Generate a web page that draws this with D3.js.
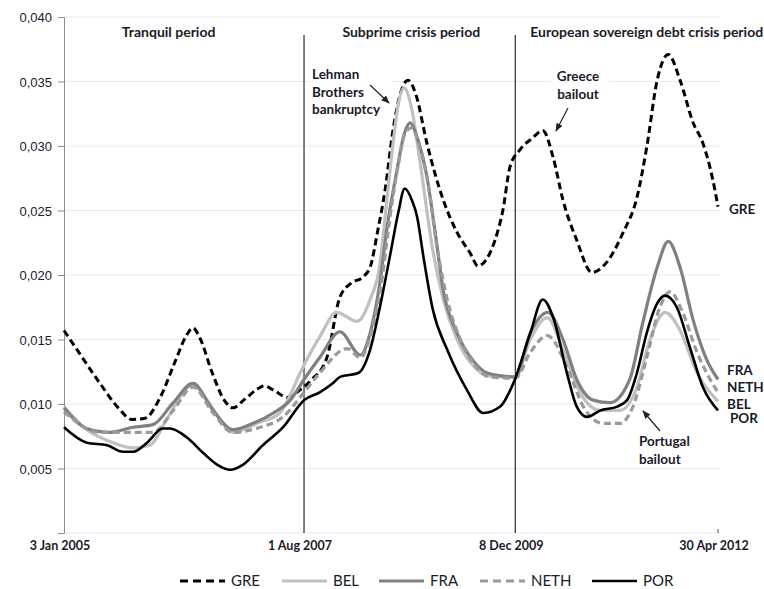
<!DOCTYPE html>
<html>
<head>
<meta charset="utf-8">
<script src="https://d3js.org/d3.v7.min.js"></script>
<style>
  body { margin: 0; background: #fff; }
  svg { display: block; font-family: Lato, "Liberation Sans", sans-serif; }
</style>
</head>
<body>
<svg id="chart" width="764" height="589"></svg>
<script>
// ---- data (x = observation index, 0..100 across the sample) ----
const seriesNames = ["GRE", "BEL", "FRA", "NETH", "POR"];
const xTickPos = [0, 36.7, 69.0, 100];
const xTickLabels = ["3 Jan 2005", "1 Aug 2007", "8 Dec 2009", "30 Apr 2012"];
const periodBreaks = [36.7, 69.0];
const periodLabels = ["Tranquil period", "Subprime crisis period", "European sovereign debt crisis period"];
const periodLabelPos = [16.0, 53.1, 89.1];
const yTicks = [0.005, 0.010, 0.015, 0.020, 0.025, 0.030, 0.035, 0.040];

const GRE = [[0,0.0157],[2.4,0.0139],[5.5,0.0116],[8.3,0.0097],[10.4,0.0088],[12.4,0.0089],[14.7,0.0105],[17.0,0.0133],[18.7,0.0153],[19.7,0.0159],[20.8,0.0151],[22.6,0.0125],[24.5,0.0103],[25.8,0.0097],[27.7,0.0104],[29.7,0.0112],[30.6,0.0114],[32.3,0.0110],[34.1,0.0105],[36.1,0.0111],[37.9,0.0119],[40.2,0.0136],[42.2,0.0183],[44.0,0.0194],[45.6,0.0198],[46.8,0.0206],[48.0,0.0235],[49.1,0.0266],[50.3,0.0312],[51.4,0.0340],[52.6,0.0351],[53.8,0.0340],[55.5,0.0302],[58.0,0.0258],[60.1,0.0233],[62.1,0.0217],[63.3,0.0207],[64.7,0.0213],[65.9,0.0227],[67.1,0.0250],[68.2,0.0284],[69.7,0.0297],[71.6,0.0306],[73.2,0.0312],[74.8,0.0291],[76.3,0.0258],[78.4,0.0227],[80.7,0.0202],[83.0,0.0210],[85.5,0.0233],[87.6,0.0260],[89.1,0.0299],[90.7,0.0351],[92.4,0.0371],[94.2,0.0351],[96.2,0.0318],[97.7,0.0302],[99.2,0.0274],[100,0.0253]];

const BEL = [[0,0.0098],[3.5,0.0080],[7.0,0.0071],[10.6,0.0066],[13.1,0.0068],[15.7,0.0088],[17.7,0.0105],[19.7,0.0115],[21.9,0.0103],[23.9,0.0088],[25.8,0.0078],[29.5,0.0085],[33.0,0.0093],[34.1,0.0102],[36.1,0.0124],[39.1,0.0152],[41.7,0.0171],[44.8,0.0164],[46.8,0.0181],[48.3,0.0208],[49.2,0.0250],[50.2,0.0297],[51.1,0.0332],[52.0,0.0345],[53.2,0.0328],[54.4,0.0289],[56.4,0.0219],[58.0,0.0181],[60.1,0.0150],[62.5,0.0130],[64.7,0.0122],[66.7,0.0121],[69.0,0.0121],[71.3,0.0150],[73.9,0.0167],[76.3,0.0142],[78.9,0.0109],[82.0,0.0095],[85.0,0.0095],[87.6,0.0113],[89.6,0.0150],[91.9,0.0171],[94.2,0.0157],[96.8,0.0124],[100,0.0102]];

const FRA = [[0,0.0097],[3.5,0.0081],[7.0,0.0078],[10.6,0.0082],[13.6,0.0084],[16.7,0.0101],[19.7,0.0116],[22.8,0.0095],[25.8,0.0080],[28.9,0.0085],[32.0,0.0093],[34.6,0.0103],[36.7,0.0119],[39.1,0.0136],[42.2,0.0156],[45.3,0.0138],[46.8,0.0155],[48.3,0.0194],[49.4,0.0237],[50.9,0.0281],[52.0,0.0309],[52.9,0.0318],[54.1,0.0305],[55.5,0.0276],[56.7,0.0235],[58.0,0.0188],[60.1,0.0155],[62.5,0.0134],[64.7,0.0124],[66.7,0.0122],[69.0,0.0121],[71.3,0.0155],[74.0,0.0171],[76.3,0.0150],[78.4,0.0119],[80.9,0.0103],[83.5,0.0101],[86.5,0.0119],[88.5,0.0163],[90.7,0.0206],[92.4,0.0226],[94.2,0.0206],[96.2,0.0165],[98.3,0.0134],[100,0.0119]];

const NETH = [[0,0.0094],[5.5,0.0078],[10.6,0.0078],[13.6,0.0078],[16.7,0.0095],[19.7,0.0113],[22.8,0.0093],[25.8,0.0078],[30.0,0.0082],[33.5,0.0090],[36.7,0.0109],[39.1,0.0124],[43.3,0.0143],[45.3,0.0136],[47.2,0.0160],[48.6,0.0196],[49.8,0.0243],[51.1,0.0285],[52.1,0.0309],[53.1,0.0314],[54.3,0.0301],[55.7,0.0270],[57.0,0.0223],[58.6,0.0181],[60.6,0.0150],[62.8,0.0130],[65.1,0.0121],[69.0,0.0120],[71.3,0.0140],[73.9,0.0153],[76.9,0.0129],[79.4,0.0098],[82.4,0.0085],[85.0,0.0085],[87.0,0.0098],[89.1,0.0136],[91.1,0.0175],[92.7,0.0187],[94.6,0.0171],[96.8,0.0140],[98.8,0.0119],[100,0.0109]];

const POR = [[0,0.0082],[3.5,0.0070],[6.6,0.0068],[9.0,0.0063],[10.6,0.0063],[12.7,0.0070],[15.1,0.0081],[16.2,0.0081],[18.8,0.0074],[21.3,0.0062],[23.4,0.0053],[25.4,0.0049],[27.4,0.0053],[30.4,0.0068],[33.5,0.0082],[36.7,0.0103],[39.1,0.0109],[41.1,0.0116],[42.2,0.0121],[45.0,0.0124],[46.8,0.0142],[48.3,0.0175],[50.0,0.0219],[51.1,0.0248],[52.1,0.0267],[53.2,0.0258],[54.0,0.0245],[54.9,0.0216],[56.4,0.0173],[58.6,0.0142],[61.6,0.0111],[64.1,0.0093],[66.7,0.0098],[68.7,0.0116],[71.3,0.0155],[73.2,0.0181],[74.8,0.0167],[76.9,0.0124],[78.4,0.0098],[80.0,0.0090],[82.0,0.0095],[84.6,0.0098],[86.1,0.0103],[87.6,0.0124],[89.1,0.0155],[90.7,0.0178],[91.9,0.0184],[93.7,0.0175],[95.7,0.0144],[97.7,0.0113],[100,0.0095]];

const seriesData = [GRE, BEL, FRA, NETH, POR];
const seriesColor = ["#000000", "#c0c0c0", "#808080", "#9a9a9a", "#000000"];
const seriesDash = ["7,4", null, null, "7,4", null];
const seriesWidth = [3, 3.2, 3.2, 3.2, 2.6];

// ---- layout ----
const svg = d3.select("#chart");
const x = d3.scaleLinear().domain([0, 100]).range([64, 718]);
const y = d3.scaleLinear().domain([0, 0.04]).range([533, 17]);
const txt = "#1a1a2a";

// gridlines
svg.append("g").selectAll("line").data([0].concat(yTicks)).join("line")
  .attr("x1", 64).attr("x2", 720)
  .attr("y1", d => y(d)).attr("y2", d => y(d))
  .attr("stroke", "#e4ebf4").attr("stroke-width", 1);

// y axis
const yAxis = d3.axisLeft(y).tickValues([0].concat(yTicks)).tickSize(6)
  .tickFormat(d => d === 0 ? "" : d3.format(".3f")(d).replace(".", ","));
const gy = svg.append("g").attr("transform", "translate(64,0)").call(yAxis);
gy.select(".domain").attr("stroke", "#8c8c8c");
gy.selectAll(".tick line").attr("stroke", "#8c8c8c");
gy.selectAll("text").attr("font-size", 13).attr("fill", txt).attr("x", -12).attr("dy", "0.35em");

// x tick labels
svg.append("g").selectAll("text").data(xTickPos).join("text")
  .attr("x", d => x(d) - 4).attr("y", 550)
  .attr("text-anchor", "middle").attr("font-size", 12.5).attr("font-weight", "bold")
  .attr("fill", txt).text((d, i) => xTickLabels[i]);
svg.append("line").attr("x1", x(100)).attr("x2", x(100)).attr("y1", 529).attr("y2", 533)
  .attr("stroke", "#555");

// period separators
svg.append("g").selectAll("line").data(periodBreaks).join("line")
  .attr("x1", d => x(d)).attr("x2", d => x(d))
  .attr("y1", 35).attr("y2", 533).attr("stroke", "#000").attr("stroke-width", 1);

svg.append("g").selectAll("text").data(periodLabels).join("text")
  .attr("x", (d, i) => x(periodLabelPos[i])).attr("y", 37)
  .attr("text-anchor", "middle").attr("font-size", 14).attr("font-weight", "bold")
  .attr("fill", txt).text(d => d);

// annotation backgrounds (hide gridlines like the original)
const bgBoxes = [[308, 64, 84, 56], [551, 65, 58, 36], [636, 429, 62, 36]];
svg.append("g").selectAll("rect").data(bgBoxes).join("rect")
  .attr("x", d => d[0]).attr("y", d => d[1]).attr("width", d => d[2]).attr("height", d => d[3])
  .attr("fill", "#fff");

// lines
const line = d3.line().x(d => x(d[0])).y(d => y(d[1])).curve(d3.curveMonotoneX);
svg.append("g").selectAll("path").data(seriesData).join("path")
  .attr("d", line)
  .attr("fill", "none")
  .attr("stroke", (d, i) => seriesColor[i])
  .attr("stroke-width", (d, i) => seriesWidth[i])
  .attr("stroke-dasharray", (d, i) => seriesDash[i])
  .attr("stroke-linejoin", "round");

// end labels
const endLabelY = [0.0251, 0.0100, 0.0126, 0.0113, 0.0089];
svg.append("g").selectAll("text").data(seriesNames).join("text")
  .attr("x", (d, i) => i === 4 ? 730 : (i === 0 ? 729 : 727))
  .attr("y", (d, i) => y(endLabelY[i]))
  .attr("dy", "0.35em")
  .attr("font-size", 13.5).attr("font-weight", "bold").attr("fill", txt)
  .text(d => d);

// annotations
svg.append("defs").append("marker").attr("id", "arr")
  .attr("viewBox", "0 0 10 10").attr("refX", 9).attr("refY", 5)
  .attr("markerWidth", 7).attr("markerHeight", 7).attr("orient", "auto")
  .append("path").attr("d", "M0,1 L10,5 L0,9 z").attr("fill", "#222");

const notes = [
  {lines: ["Lehman", "Brothers", "bankruptcy"], tx: 312, ty: 79, anchor: "start", arrow: [370, 85, 389, 103]},
  {lines: ["Greece", "bailout"], tx: 578, ty: 81, anchor: "middle", arrow: [568, 108, 556, 131]},
  {lines: ["Portugal", "bailout"], tx: 639, ty: 446, anchor: "start", arrow: [660, 431, 643, 411]}
];
notes.forEach(n => {
  const t = svg.append("text").attr("x", n.tx).attr("y", n.ty)
    .attr("text-anchor", n.anchor).attr("font-size", 13.5).attr("font-weight", "bold").attr("fill", txt);
  n.lines.forEach((l, i) => t.append("tspan").attr("x", n.tx).attr("dy", i === 0 ? 0 : 17.5).text(l));
  svg.append("line").attr("x1", n.arrow[0]).attr("y1", n.arrow[1]).attr("x2", n.arrow[2]).attr("y2", n.arrow[3])
    .attr("stroke", "#222").attr("stroke-width", 1.2).attr("marker-end", "url(#arr)");
});

// legend
const legX = [180, 282, 379, 480, 592];
const lg = svg.append("g").selectAll("g").data(seriesNames).join("g")
  .attr("transform", (d, i) => `translate(${legX[i]},581)`);
lg.append("line").attr("x1", 0).attr("x2", 45).attr("y1", 0).attr("y2", 0)
  .attr("stroke", (d, i) => seriesColor[i])
  .attr("stroke-width", (d, i) => seriesWidth[i])
  .attr("stroke-dasharray", (d, i) => seriesDash[i] ? "8,5" : null);
lg.append("text").attr("x", 51).attr("dy", "0.35em").attr("font-size", 15)
  .attr("fill", txt).text(d => d);
</script>
</body>
</html>
